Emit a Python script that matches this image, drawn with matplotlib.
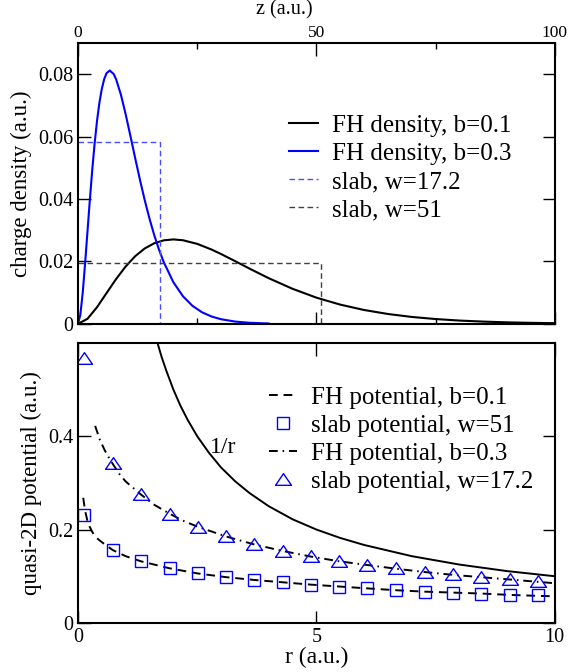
import matplotlib
matplotlib.use('Agg')
import matplotlib.pyplot as plt
from matplotlib.path import Path

plt.rcParams['font.family'] = ['Liberation Serif', 'DejaVu Serif']

# --- top panel: charge density vs z ---
z1 = [0, 2, 4, 6, 8, 10, 12, 14, 16, 18, 20, 22, 25, 28, 30, 33, 36, 40, 45, 50,
      55, 60, 65, 70, 75, 80, 85, 90, 95, 100]
rho1 = [0, 0.00164, 0.00536, 0.00988, 0.01438, 0.01839, 0.02169, 0.02417, 0.02584,
        0.02678, 0.02707, 0.02681, 0.02565, 0.02384, 0.0224, 0.02008, 0.0177, 0.01465,
        0.01125, 0.00842, 0.00618, 0.00446, 0.00318, 0.00223, 0.00156, 0.00107,
        0.00074, 0.0005, 0.00034, 0.00023]
z3 = [0, 0.5, 1, 1.5, 2, 2.5, 3, 3.5, 4, 4.5, 5, 5.5, 6, 6.67, 7.5, 8, 9, 10, 11, 12,
      13, 14, 15, 16, 17, 18, 20, 22, 24, 26, 28, 30, 33, 36, 40]
rho3 = [0, 0.0029, 0.0100, 0.01937, 0.02964, 0.03986, 0.0494, 0.05787, 0.06506, 0.07086,
        0.0753, 0.07841, 0.08034, 0.0812, 0.08004, 0.07838, 0.07349, 0.06721, 0.06025,
        0.05312, 0.04618, 0.03968, 0.03374, 0.02844, 0.02379, 0.01976, 0.01339, 0.00889,
        0.00581, 0.00374, 0.00238, 0.0015, 0.00074, 0.00036, 0.00013]
slab_w = [17.2, 51]
slab_h = [1 / 17.2, 1 / 51]

# --- bottom panel: potentials vs r ---
r_inv = [1.667, 1.75, 1.85, 2.0, 2.15, 2.3, 2.5, 2.75, 3.0, 3.3, 3.6, 4.0, 4.5, 5.0,
         5.5, 6.0, 7.0, 8.0, 9.0, 10.0]
v_inv = [0.6, 0.571, 0.541, 0.5, 0.465, 0.435, 0.4, 0.364, 0.333, 0.303, 0.278, 0.25,
         0.222, 0.2, 0.182, 0.167, 0.143, 0.125, 0.111, 0.1]
r_fh1 = [0.11, 0.15, 0.2, 0.24, 0.3, 0.36, 0.45, 0.54, 0.73, 1.0, 1.32, 1.92, 2.51, 3.11,
         3.7, 4.3, 4.89, 5.48, 6.07, 6.68, 7.27, 7.86, 8.45, 9.06, 9.65, 10.0]
v_fh1 = [0.268, 0.24, 0.218, 0.207, 0.195, 0.185, 0.177, 0.17, 0.156, 0.143, 0.132, 0.117,
         0.106, 0.098, 0.092, 0.087, 0.082, 0.078, 0.074, 0.070, 0.067, 0.065, 0.063,
         0.060, 0.058, 0.057]
r_fh3 = [0.36, 0.46, 0.56, 0.67, 0.86, 1.0, 1.32, 1.6, 1.92, 2.2, 2.51, 3.11, 3.7, 4.3,
         4.89, 5.48, 6.07, 6.68, 7.27, 7.86, 8.45, 9.06, 9.65, 10.0]
v_fh3 = [0.422, 0.392, 0.370, 0.350, 0.320, 0.303, 0.275, 0.253, 0.234, 0.219, 0.206,
         0.185, 0.168, 0.154, 0.142, 0.132, 0.124, 0.116, 0.109, 0.103, 0.098, 0.093,
         0.088, 0.085]
r_pts = [0.13, 0.73, 1.32, 1.92, 2.51, 3.11, 3.70, 4.30, 4.89, 5.48, 6.07, 6.68, 7.27,
         7.86, 8.45, 9.06, 9.65]
v_slab51 = [0.232, 0.156, 0.132, 0.117, 0.106, 0.099, 0.093, 0.087, 0.082, 0.078, 0.074,
            0.070, 0.067, 0.065, 0.063, 0.060, 0.059]
v_slab17 = [0.567, 0.343, 0.276, 0.234, 0.206, 0.186, 0.168, 0.154, 0.143, 0.133, 0.124,
            0.117, 0.110, 0.104, 0.099, 0.094, 0.089]

fig = plt.figure(figsize=(5.69, 6.72), dpi=100)
ax1 = fig.add_axes([0.137, 0.518, 0.838, 0.418])
ax2 = fig.add_axes([0.137, 0.073, 0.838, 0.417])

tick_kw = dict(direction='in', top=True, right=True, width=1, labelsize=14.5)
leg_kw = dict(loc='upper left', frameon=False, fontsize=18, handlelength=1.15,
              handletextpad=0.55, labelspacing=0.22, borderaxespad=0, borderpad=0)

ax1.plot(z1, rho1, color='black', lw=1.5, label='FH density, b=0.1')
ax1.plot(z3, rho3, color='#0000ff', lw=1.5, label='FH density, b=0.3')
ax1.plot([0, slab_w[0], slab_w[0]], [slab_h[0], slab_h[0], 0], color='#4c4cff', lw=1,
         dashes=(4, 2.5), label='slab, w=17.2')
ax1.plot([0, slab_w[1], slab_w[1]], [slab_h[1], slab_h[1], 0], color='#404040', lw=1,
         dashes=(4, 2.5), label='slab, w=51')
ax1.set_xlim(0, 100)
ax1.set_ylim(0, 0.09)
ax1.set_xticks([0, 50, 100])
ax1.set_xticks([25, 75], minor=True)
ax1.set_yticks([0, 0.02, 0.04, 0.06, 0.08])
ax1.set_yticklabels(['0', '0.02', '0.04', '0.06', '0.08'])
ax1.tick_params(which='major', length=9, labeltop=True, labelbottom=False, **tick_kw)
ax1.tick_params(axis='x', pad=1.5, labelsize=12.5)
ax1.tick_params(which='minor', length=4.5, direction='in', top=True, width=1)
ax1.xaxis.set_label_position('top')
ax1.set_xlabel('z (a.u.)', fontsize=14.5, va='top')
ax1.xaxis.set_label_coords(0.5, 1 - 0.5 / 672, transform=fig.transFigure)
ax1.set_ylabel('charge density (a.u.)', fontsize=16.5, labelpad=4)
ax1.legend(bbox_to_anchor=(0.443, 0.745), **leg_kw)

tri = Path([(-1, -0.73), (1, -0.73), (0, 0.73), (-1, -0.73)], closed=True)
ax2.plot(r_inv, v_inv, color='black', lw=1.4)
ax2.plot(r_fh1, v_fh1, color='black', lw=1.4, dashes=(4.5, 3), label='FH potential, b=0.1')
ax2.plot(r_pts, v_slab51, ls='none', marker='s', ms=8.5, mfc='none', mec='#0000ff', mew=1,
         label='slab potential, w=51')
ax2.plot(r_fh3, v_fh3, color='black', lw=1.4, dashes=(4.5, 2.5, 0.8, 2.5),
         label='FH potential, b=0.3')
ax2.plot(r_pts, v_slab17, ls='none', marker=tri, ms=11.5, mfc='none', mec='#0000ff', mew=1,
         label='slab potential, w=17.2')
ax2.text(3.05, 0.375, '1/r', fontsize=17, ha='center', va='center')
ax2.set_xlim(0, 10)
ax2.set_ylim(0, 0.6)
ax2.set_xticks([0, 5, 10])
ax2.set_yticks([0, 0.2, 0.4])
ax2.set_yticklabels(['0', '0.2', '0.4'])
ax2.tick_params(which='major', length=9, **tick_kw)
ax2.set_xlabel('r (a.u.)', fontsize=17, labelpad=0)
ax2.set_ylabel('quasi-2D potential (a.u.)', fontsize=16.5, labelpad=4)
ax2.legend(bbox_to_anchor=(0.4, 0.845), **leg_kw)

for ax in (ax1, ax2):
    for s in ax.spines.values():
        s.set_linewidth(1.5)

plt.savefig('out.png', dpi=100)
plt.close()
